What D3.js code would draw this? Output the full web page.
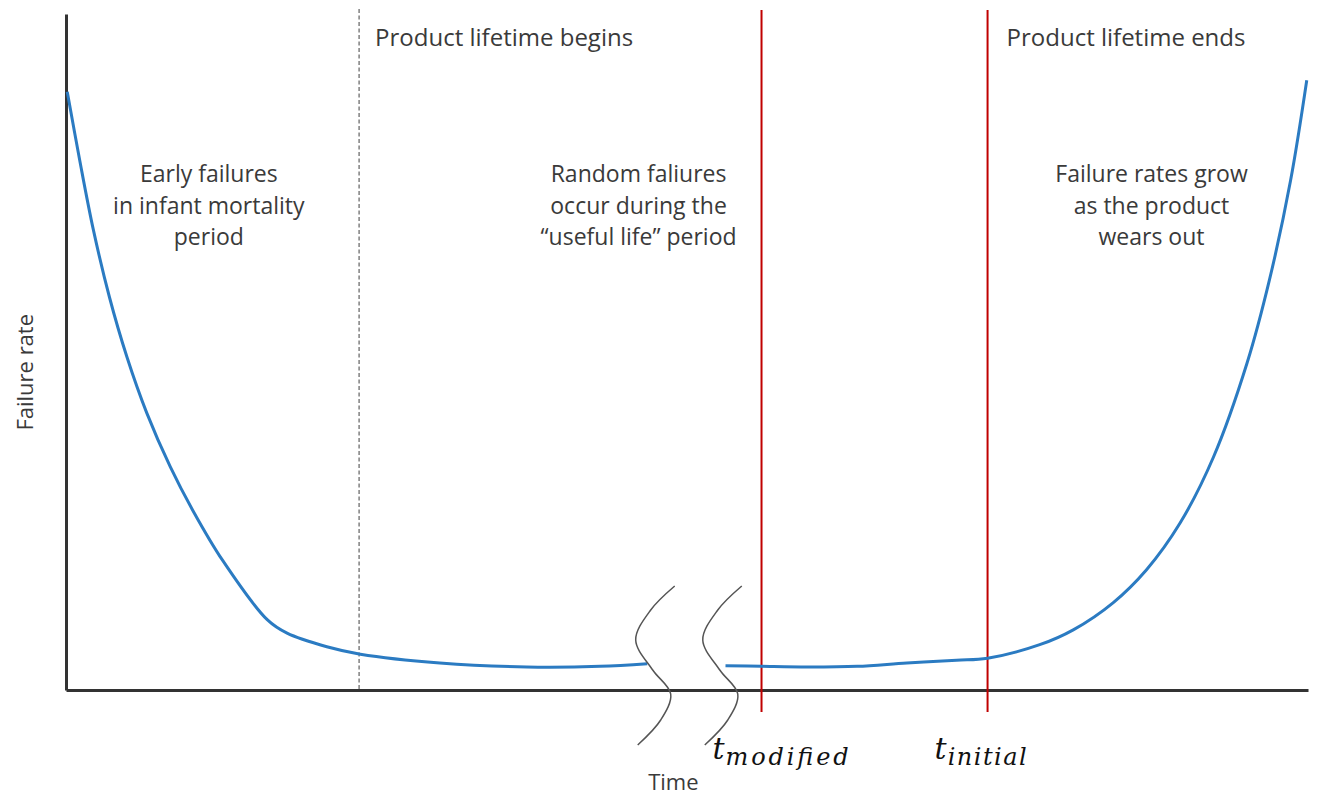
<!DOCTYPE html>
<html>
<head>
<meta charset="utf-8">
<script src="https://cdn.jsdelivr.net/npm/d3@7"></script>
<style>
  body { margin: 0; background: #fff; }
  text { font-family: "Open Sans", sans-serif; fill: #3a3a3a; }
  .math { font-family: "DejaVu Serif", serif; font-style: italic; fill: #111; }
</style>
</head>
<body>
<svg></svg>
<script>
var width = 1320,
    height = 796;

// bathtub curve, time and failure rate in arbitrary units (0-100)
var earlyTime = [0.1, 1.1, 2.2, 3.5, 4.9, 6.5, 8.4, 10.2, 12.6, 16.2, 17.8, 21.0, 23.7, 30.1, 37.1, 43.0, 46.8];
var earlyRate = [88.5, 78.4, 68.1, 58.1, 49.3, 41.0, 33.0, 26.6, 19.2, 10.4, 8.4, 6.4, 5.3, 4.0, 3.4, 3.5, 3.9];
var lateTime = [53.1, 56.0, 59.7, 63.7, 67.7, 71.7, 74.2, 78.4, 81.1, 84.3, 87.0, 89.7, 92.4, 95.1, 96.9, 98.6, 99.9];
var lateRate = [3.6, 3.5, 3.4, 3.5, 4.0, 4.4, 4.7, 6.7, 8.9, 12.9, 17.8, 24.7, 34.5, 48.4, 60.7, 75.4, 90.2];

var lifetimeBegins = 23.6;
var markers = [{ t: 56.0, base: "t", sub: "modified", subLen: 123, shift: -49 },
               { t: 74.2, base: "t", sub: "initial", subLen: 79, shift: -53 }];
var breaks = [47.4, 52.8];

var regionLabels = [
  { t: 11.5, lines: ["Early failures", "in infant mortality", "period"] },
  { t: 46.1, lines: ["Random faliures", "occur during the", "\u201cuseful life\u201d period"] },
  { t: 87.4, lines: ["Failure rates grow", "as the product", "wears out"] }
];

var svg = d3.select("svg")
    .attr("width", width)
    .attr("height", height);

var x = d3.scaleLinear().domain([0, 100]).range([66, 1308]);
var y = d3.scaleLinear().domain([0, 100]).range([690, 14]);

// axes, no ticks
svg.append("g")
    .attr("transform", "translate(0," + y(0) + ")")
    .call(d3.axisBottom(x).tickValues([]).tickSizeOuter(0))
    .select(".domain").attr("stroke", "#333").attr("stroke-width", 3);
svg.append("g")
    .attr("transform", "translate(" + x(0) + ",0)")
    .call(d3.axisLeft(y).tickValues([]).tickSizeOuter(0))
    .select(".domain").attr("stroke", "#333").attr("stroke-width", 3);

// lifetime begins (dashed)
svg.append("line")
    .attr("x1", x(lifetimeBegins)).attr("x2", x(lifetimeBegins))
    .attr("y1", y(100) - 5).attr("y2", y(0))
    .attr("stroke", "#888").attr("stroke-width", 1.6)
    .attr("stroke-dasharray", "4,2.5");

// red marker lines
svg.selectAll(".marker")
    .data(markers)
    .enter().append("line")
    .attr("class", "marker")
    .attr("x1", function(d) { return x(d.t); })
    .attr("x2", function(d) { return x(d.t); })
    .attr("y1", y(100) - 4)
    .attr("y2", y(0) + 22)
    .attr("stroke", "#c00000")
    .attr("stroke-width", 2);

// curve
var line = d3.line()
    .x(function(d) { return x(d[0]); })
    .y(function(d) { return y(d[1]); })
    .curve(d3.curveCatmullRom.alpha(0.5));

[[earlyTime, earlyRate], [lateTime, lateRate]].forEach(function(s) {
  svg.append("path")
      .datum(d3.zip(s[0], s[1]))
      .attr("d", line)
      .attr("fill", "none")
      .attr("stroke", "#2b7bc2")
      .attr("stroke-width", 3);
});

// axis break squiggles
var squiggle = d3.line().curve(d3.curveCatmullRom.alpha(0.5));
var sPts = [[20, -104], [-4, -80], [-19, -50], [-2, -20], [16, 4], [6, 30], [-17, 55]];
svg.selectAll(".brk")
    .data(breaks)
    .enter().append("path")
    .attr("class", "brk")
    .attr("transform", function(d) { return "translate(" + x(d) + "," + y(0) + ")"; })
    .attr("d", squiggle(sPts))
    .attr("fill", "none")
    .attr("stroke", "#555")
    .attr("stroke-width", 1.5);

// top labels
svg.append("text")
    .attr("x", x(lifetimeBegins) + 16).attr("y", 46)
    .style("font-size", "24px")
    .text("Product lifetime begins");
svg.append("text")
    .attr("x", x(markers[1].t) + 19).attr("y", 46)
    .style("font-size", "24px")
    .text("Product lifetime ends");

// region labels
var rl = svg.selectAll(".region")
    .data(regionLabels)
    .enter().append("text")
    .attr("class", "region")
    .attr("text-anchor", "middle")
    .style("font-size", "23px");
rl.selectAll("tspan")
    .data(function(d) { return d.lines.map(function(l) { return { t: d.t, l: l }; }); })
    .enter().append("tspan")
    .attr("x", function(d) { return x(d.t); })
    .attr("y", function(d, i) { return 182 + i * 31.5; })
    .text(function(d) { return d.l; });

// axis titles
svg.append("text")
    .attr("transform", "translate(33," + y(47) + ") rotate(-90)")
    .attr("text-anchor", "middle")
    .style("font-size", "22px")
    .text("Failure rate");
svg.append("text")
    .attr("x", x(48.9)).attr("y", 790)
    .attr("text-anchor", "middle")
    .style("font-size", "22px")
    .text("Time");

// t labels under red lines
var tl = svg.selectAll(".tlabel")
    .data(markers)
    .enter().append("text")
    .attr("class", "tlabel math")
    .attr("x", function(d) { return x(d.t) + d.shift; })
    .attr("y", 759);
tl.append("tspan")
    .style("font-size", "30px")
    .text(function(d) { return d.base; });
tl.append("tspan")
    .attr("dy", 6)
    .attr("dx", 1)
    .attr("textLength", function(d) { return d.subLen; })
    .attr("lengthAdjust", "spacing")
    .style("font-size", "24px")
    .text(function(d) { return d.sub; });
</script>
</body>
</html>
